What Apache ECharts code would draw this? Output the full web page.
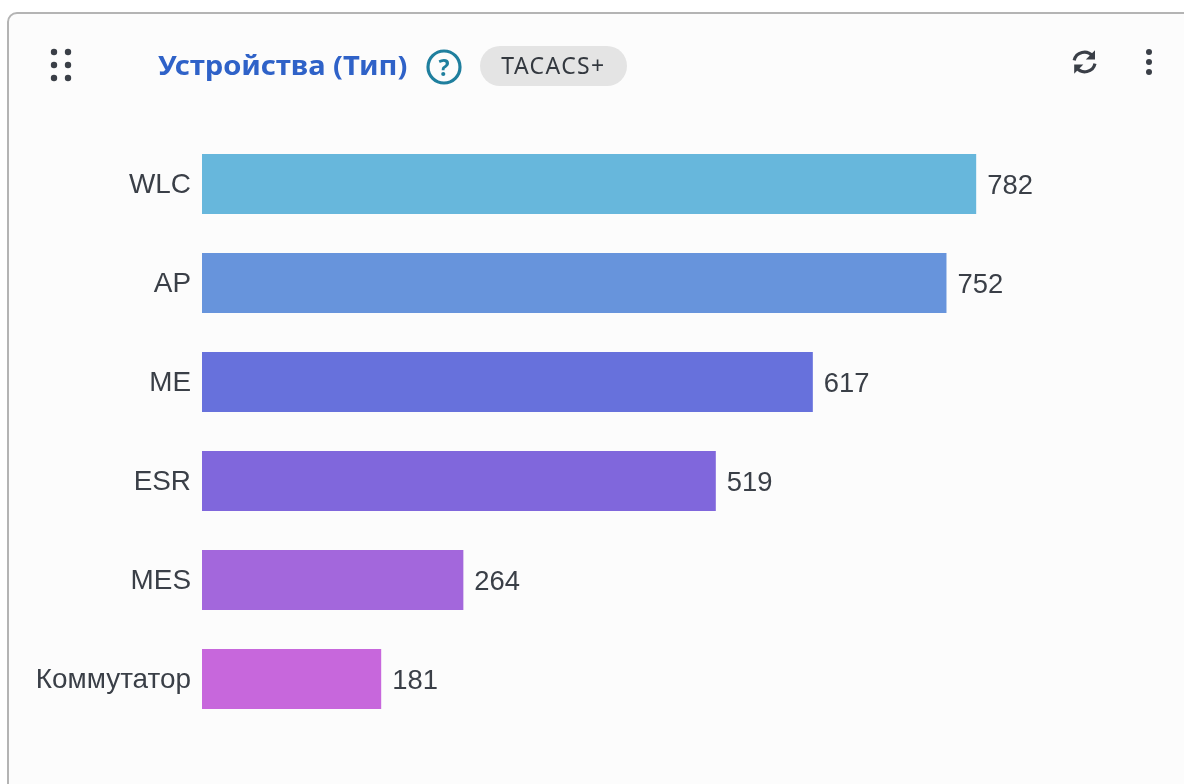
<!DOCTYPE html>
<html>
<head>
<meta charset="utf-8">
<style>
  html, body { margin: 0; width: 1184px; height: 784px; overflow: hidden; background: #fff; }
  .card { position: absolute; left: 7px; top: 11.5px; width: 1300px; height: 900px; box-sizing: border-box;
    border: 2px solid #b4b4b4; border-radius: 10px; background: #fcfcfc; }
  #chart { position: absolute; left: 0; top: 0; width: 1184px; height: 784px; }
  .title { position: absolute; left: 158px; top: 46px; font: bold 26px/38px "Noto Sans", sans-serif; color: #2f62c8; white-space: nowrap;
    transform: scaleX(1.12); transform-origin: left center; }
  .chip { position: absolute; left: 480px; top: 46px; width: 147px; height: 40px; border-radius: 20px; background: #e4e4e4;
    font: 23px/38px "Noto Sans", sans-serif; color: #33383f; text-align: center; letter-spacing: 1.4px; }
  svg.ic { position: absolute; }
</style>
</head>
<body>
<div class="card"></div>
<div id="chart"></div>
<svg class="ic" style="left:47px;top:46px" width="28" height="40">
  <g fill="#3a3f47">
    <circle cx="7" cy="6" r="3.2"/><circle cx="21" cy="6" r="3.2"/>
    <circle cx="7" cy="19" r="3.2"/><circle cx="21" cy="19" r="3.2"/>
    <circle cx="7" cy="32" r="3.2"/><circle cx="21" cy="32" r="3.2"/>
  </g>
</svg>
<div class="title">Устройства (Тип)</div>
<svg class="ic" style="left:425px;top:48px" width="40" height="38">
  <circle cx="19" cy="19" r="16" fill="none" stroke="#1f7f9e" stroke-width="3.2"/>
  <text x="19" y="27.5" text-anchor="middle" font-family="Noto Sans" font-weight="bold" font-size="23" fill="#1f7f9e">?</text>
</svg>
<div class="chip">TACACS+</div>
<svg class="ic" style="left:1070px;top:47px" width="30" height="30" viewBox="0 0 36 34">
  <g fill="none" stroke="#3a3f47" stroke-width="3.8">
    <path d="M5 15 A12.5 12.5 0 0 1 27 10"/>
    <path d="M30 19 A12.5 12.5 0 0 1 8 24"/>
  </g>
  <path d="M30 3 V14 H19 Z" fill="#3a3f47"/>
  <path d="M5 31 V20 H16 Z" fill="#3a3f47"/>
</svg>
<svg class="ic" style="left:1138px;top:46px" width="22" height="34">
  <g fill="#3a3f47"><circle cx="11" cy="6" r="3"/><circle cx="11" cy="16" r="3"/><circle cx="11" cy="26" r="3"/></g>
</svg>

<script src="https://cdn.jsdelivr.net/npm/echarts@6/dist/echarts.min.js"></script>
<script>
const categories = ['WLC', 'AP', 'ME', 'ESR', 'MES', 'Коммутатор']
const values = [782, 752, 617, 519, 264, 181]
const colors = ['#67B7DC', '#6794DC', '#6771DC', '#8067DC', '#A367DC', '#C767DC']

const chart = echarts.init(document.getElementById('chart'), null, { renderer: 'canvas' })
chart.setOption({
  animation: false,
  grid: { left: 202, top: 134.5, width: 792, height: 594 },
  xAxis: { type: 'value', min: 0, max: 800, show: false },
  yAxis: {
    type: 'category',
    inverse: true,
    data: categories,
    axisLine: { show: false },
    axisTick: { show: false },
    axisLabel: {
      margin: 11,
      formatter: '{a|{value}}',
      rich: { a: { color: '#3a3f47', fontSize: 27.9, fontFamily: 'Liberation Sans', padding: [3, 0, 0, 0] } }
    }
  },
  series: [{
    type: 'bar',
    barWidth: 60,
    data: values.map((v, i) => ({ value: v, itemStyle: { color: colors[i] } })),
    label: { show: true, position: 'right', distance: 11, offset: [0, 2], color: '#3a3f47', fontSize: 27.4, fontFamily: 'Liberation Sans' }
  }]
})
</script>
</body>
</html>
